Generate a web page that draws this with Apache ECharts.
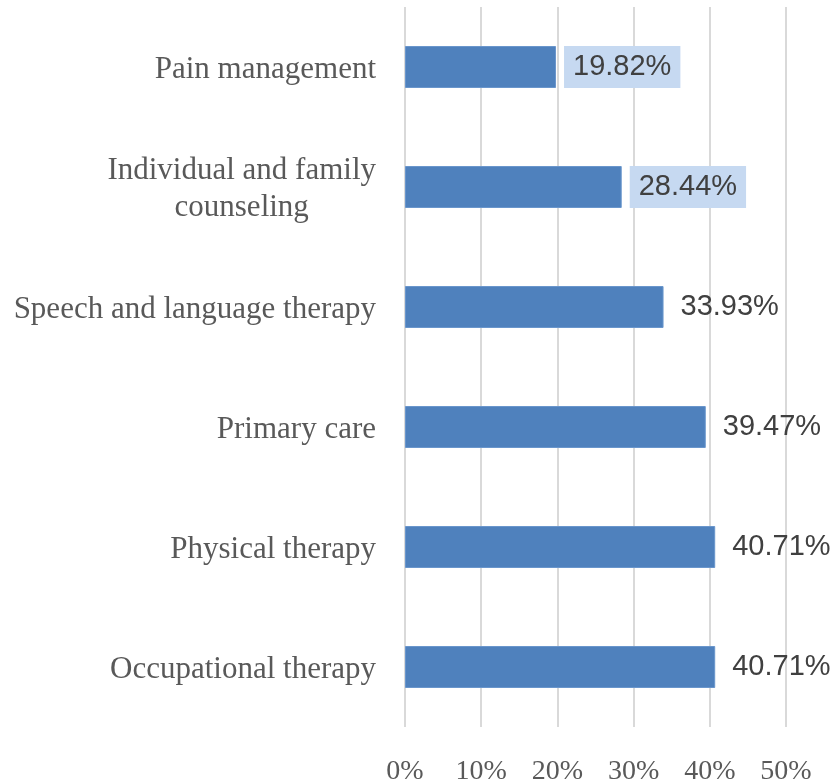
<!DOCTYPE html>
<html>
<head>
<meta charset="utf-8">
<script src="https://cdn.jsdelivr.net/npm/echarts@6/dist/echarts.min.js"></script>
<style>html,body{margin:0;padding:0;background:#fff}#c{width:832px;height:783px}</style>
</head>
<body>
<div id="c"></div>
<script>
const categories = ['Pain management', 'Individual and family\ncounseling', 'Speech and language therapy', 'Primary care', 'Physical therapy', 'Occupational therapy'];
const values = [19.82, 28.44, 33.93, 39.47, 40.71, 40.71];
const highlighted = [true, true, false, false, false, false];
const xTicks = [0, 10, 20, 30, 40, 50];

const chart = echarts.init(document.getElementById('c'));
chart.setOption({
  animation: false,
  backgroundColor: '#ffffff',
  grid: { left: 405, right: 46, top: 7, bottom: 56, containLabel: false, outerBoundsMode: 'none' },
  xAxis: {
    type: 'value', min: xTicks[0], max: xTicks[xTicks.length - 1], interval: 10,
    axisLine: { show: false }, axisTick: { show: false },
    splitLine: { show: true, lineStyle: { color: '#d9d9d9', width: 2 } },
    axisLabel: { formatter: '{value}%', fontFamily: 'Liberation Serif', fontSize: 28, color: '#595959', margin: 31 }
  },
  yAxis: {
    type: 'category', inverse: true, data: categories,
    axisLine: { show: false }, axisTick: { show: false },
    axisLabel: {
      fontFamily: 'Liberation Serif', fontSize: 31, color: '#595959', margin: 29,
      formatter: v => v.split('\n').map(s => '{c|' + s + '}').join('\n'),
      rich: { c: { align: 'center', fontFamily: 'Liberation Serif', fontSize: 31, color: '#595959', lineHeight: 37, padding: [5, 0, 0, 0] } }
    }
  },
  series: [{
    type: 'bar',
    data: values.map((v, i) => ({
      value: v,
      label: highlighted[i] ? { backgroundColor: '#c6d9f1' } : {}
    })),
    barCategoryGap: '65%',
    itemStyle: { color: '#4f81bd', borderColor: '#6a96cc', borderWidth: 1 },
    label: {
      show: true, position: 'right', distance: 8, padding: [7, 9, 6, 9],
      formatter: p => p.value.toFixed(2) + '%',
      fontFamily: 'Liberation Sans', fontSize: 29, color: '#404040'
    }
  }]
});
</script>
</body>
</html>
